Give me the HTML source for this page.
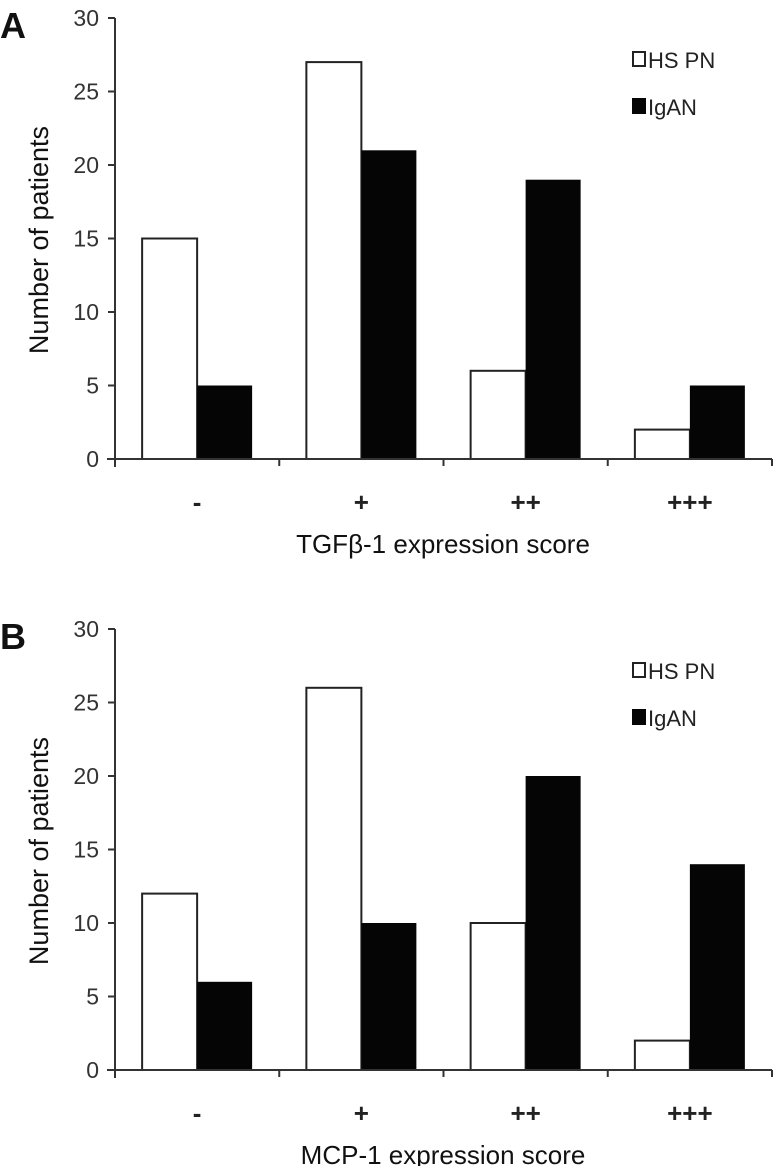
<!DOCTYPE html>
<html><head><meta charset="utf-8"><style>
body{margin:0;background:#fff;}
svg{display:block;font-family:"Liberation Sans",Arial,sans-serif;}
</style></head><body>
<svg id="fig" width="780" height="1166" viewBox="0 0 780 1166"></svg>
<script>
const categories = ["-", "+", "++", "+++"];
const hspnA = [15, 27, 6, 2];
const iganA = [5, 21, 19, 5];
const hspnB = [12, 26, 10, 2];
const iganB = [6, 10, 20, 14];
const yTicks = [0, 5, 10, 15, 20, 25, 30];
const seriesNames = ["HS PN", "IgAN"];

const NS = "http://www.w3.org/2000/svg";
const svg = document.getElementById("fig");
function mk(tag, attrs, parent) {
  const e = document.createElementNS(NS, tag);
  for (const k in attrs) e.setAttribute(k, attrs[k]);
  (parent || svg).appendChild(e);
  return e;
}

function panel(letter, top, hspn, igan, title, key) {
  const g = mk("g", {});
  
  
  const x0 = 115, x1 = 772, y0 = top + 459, y30 = top + 18;
  const yScale = v => y0 - (v / 30) * (y0 - y30);
  const catW = (x1 - x0) / categories.length;
  const xCenter = i => x0 + catW * (i + 0.5);
  const barW = 55;

  const lt = mk("text", {x: 0, y: top + 38, "font-size": 36, "font-weight": "bold", fill: "#111"}, g);
  lt.textContent = letter;
  
  

  categories.forEach((c, i) => {
    const cx = xCenter(i);
    const b1 = mk("rect", {x: cx - barW, y: yScale(hspn[i]), width: barW, height: y0 - yScale(hspn[i]), fill: "#fff", stroke: "#222", "stroke-width": 2}, g);
    
    
    const b2 = mk("rect", {x: cx, y: yScale(igan[i]), width: barW, height: y0 - yScale(igan[i]), fill: "#050505"}, g);
    
    
    const tl = mk("text", {x: cx, y: y0 + 52, "font-size": 26, "text-anchor": "middle", fill: "#222", "font-weight": "bold"}, g);
    tl.textContent = c;
    
    
  });

  const ya = mk("line", {x1: x0, y1: y30, x2: x0, y2: y0 + 8, stroke: "#333", "stroke-width": 2}, g);
  
  
  const xa = mk("line", {x1: x0 - 8, y1: y0, x2: x1, y2: y0, stroke: "#333", "stroke-width": 2}, g);
  
  
  for (let i = 1; i <= categories.length; i++) {
    const xt = x0 + catW * i;
    mk("line", {x1: xt, y1: y0, x2: xt, y2: y0 + 7, stroke: "#333", "stroke-width": 2}, g);
  }
  yTicks.forEach(t => {
    const yy = yScale(t);
    mk("line", {x1: x0 - 7, y1: yy, x2: x0, y2: yy, stroke: "#333", "stroke-width": 2}, g);
    const tx = mk("text", {x: x0 - 16, y: yy + 8, "font-size": 23, "text-anchor": "end", fill: "#333"}, g);
    tx.textContent = t;
    
    
  });

  const yt = mk("text", {x: 0, y: 0, "font-size": 27, "text-anchor": "middle", fill: "#111", transform: "translate(48," + (top + 240) + ") rotate(-90)"}, g);
  yt.textContent = "Number of patients";
  
  

  const xt = mk("text", {x: 443, y: y0 + 94, "font-size": 26, "text-anchor": "middle", fill: "#111"}, g);
  xt.textContent = title;
  
  

  const l1 = mk("rect", {x: 633, y: top + 52, width: 12, height: 14, fill: "#fff", stroke: "#222", "stroke-width": 2}, g);
  
  
  const lt1 = mk("text", {x: 648, y: top + 68, "font-size": 22, fill: "#222"}, g);
  lt1.textContent = seriesNames[0];
  
  
  const l2 = mk("rect", {x: 632, y: top + 98, width: 14, height: 16, fill: "#050505"}, g);
  
  
  const lt2 = mk("text", {x: 648, y: top + 115, "font-size": 22, fill: "#222"}, g);
  lt2.textContent = seriesNames[1];
  
  
}

panel("A", 0, hspnA, iganA, "TGFβ-1 expression score", "a");
panel("B", 611, hspnB, iganB, "MCP-1 expression score", "b");
</script>
</body></html>
